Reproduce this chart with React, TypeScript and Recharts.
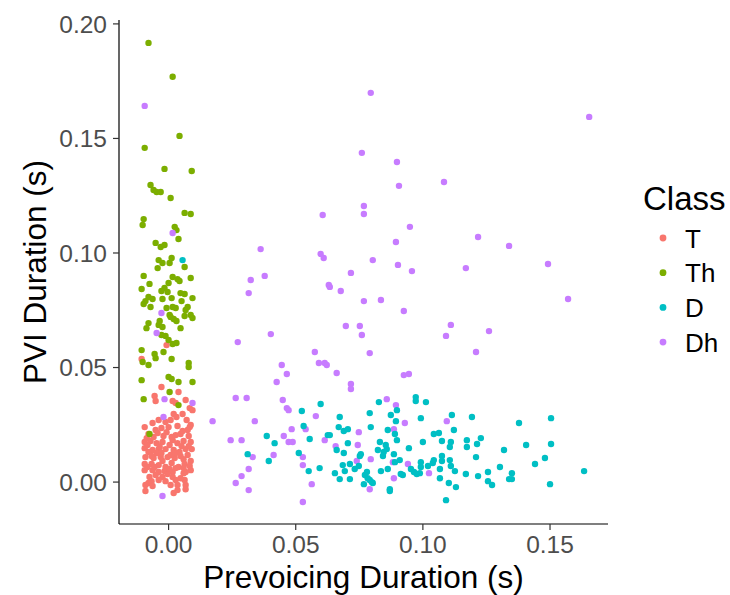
import { ScatterChart, Scatter, XAxis, YAxis, Label } from 'recharts';

type Pt = [number, number];

const classNames = ['T', 'Th', 'D', 'Dh'];
const classColors = ['#F8766D', '#7CAE00', '#00BFC4', '#C77CFF'];
const xTicks = [0, 0.05, 0.1, 0.15];
const yTicks = [0, 0.05, 0.1, 0.15, 0.2];

// prevoicing duration (s), PVI duration (s)
const tPoints: Pt[] = [
  [-0.0008, 0.0598], [-0.0106, 0.0537], [-0.0028, 0.0415], [-0.0055, 0.0376], [-0.0051, 0.0354],
  [0.0039, 0.0393], [0.0016, 0.0354], [0.0028, 0.0345], [0.0067, 0.0358], [0.0083, 0.0323],
  [0.0094, 0.0314], [0.0055, 0.0297], [0.002, 0.0297], [0.0008, 0.0271], [-0.0012, 0.0262],
  [-0.0039, 0.0271], [-0.0063, 0.0258], [-0.0094, 0.024], [0.0083, 0.024], [0.0075, 0.0227],
  [0.0, 0.024], [-0.0008, 0.0218], [-0.0043, 0.0214], [0.0028, 0.0205], [0.0047, 0.021],
  [0.0079, 0.0201], [0.0087, 0.0175], [-0.0094, 0.0175], [-0.0071, 0.0179], [-0.0047, 0.017],
  [-0.0024, 0.0175], [0.0016, 0.0183], [0.0035, 0.017], [0.0059, 0.0179], [-0.0094, 0.0148],
  [-0.0063, 0.014], [-0.0039, 0.0144], [-0.0012, 0.0144], [0.002, 0.014], [0.0043, 0.0131],
  [0.0067, 0.0144], [-0.0091, 0.0109], [-0.0059, 0.0105], [-0.0031, 0.0109], [-0.0004, 0.0109],
  [0.0024, 0.0105], [0.0059, 0.01], [0.0087, 0.0092], [-0.0094, 0.0079], [-0.0067, 0.0079],
  [-0.0039, 0.0074], [-0.0012, 0.0066], [0.0039, 0.0066], [0.0063, 0.0079], [-0.0094, 0.0052],
  [-0.0063, 0.0052], [-0.0039, 0.0044], [-0.0016, 0.0048], [0.0016, 0.0044], [0.0087, 0.0052],
  [0.0067, 0.0044], [-0.0051, 0.0031], [-0.0024, 0.0022], [0.0016, 0.0022], [0.0028, 0.0009],
  [0.0059, 0.0039], [0.0063, 0.0009], [-0.0075, 0.0022], [-0.0067, 0.0004], [0.0008, -0.0013],
  [0.0035, -0.0013], [0.0067, -0.0013], [0.0067, -0.0031], [-0.0079, -0.0004], [-0.0063, -0.0017],
  [-0.0091, -0.0013], [0.0035, -0.0035], [-0.0091, -0.0039], [0.002, -0.0048], [-0.0079, 0.021],
  [-0.0028, 0.0236], [0.0035, 0.0245], [0.0004, 0.0162], [-0.0024, 0.0092], [0.0012, 0.0083],
  [-0.0047, 0.0127], [0.0047, 0.0114], [-0.0079, 0.0131], [0.0075, 0.0118], [-0.002, 0.0201],
  [-0.0059, 0.0197], [0.0051, 0.0157], [0.0028, 0.0061], [-0.0004, 0.0035], [-0.0039, 0.0009],
  [-0.0012, 0.0004], [0.0047, 0.0017], [0.0091, 0.0144], [0.0071, 0.0271], [0.0031, 0.0284],
  [-0.0083, 0.0162], [-0.0035, 0.0153], [0.0008, 0.0118], [0.0083, 0.007], [-0.0086, 0.0192],
  [-0.0051, 0.0227], [0.0055, 0.0223], [0.0012, 0.0197], [-0.0067, 0.0114], [0.0028, 0.0127],
  [0.0079, 0.0157], [-0.0028, 0.0127], [0.0059, 0.0061], [-0.0083, 0.0066], [0.0004, 0.0057],
  [-0.0055, 0.0066], [0.0087, 0.0249],
];

const thPoints: Pt[] = [
  [-0.0079, 0.1917], [0.0016, 0.1769], [0.0043, 0.1511], [-0.0094, 0.1459], [-0.0016, 0.1367],
  [0.0091, 0.1358], [-0.0071, 0.1297], [-0.0059, 0.1275], [-0.0047, 0.1266], [-0.0031, 0.1266],
  [0.0008, 0.124], [0.0063, 0.1175], [0.0087, 0.117], [-0.0098, 0.1148], [-0.0102, 0.1122],
  [0.0024, 0.1114], [0.0031, 0.11], [0.0039, 0.1061], [-0.0051, 0.1044], [-0.0031, 0.1026],
  [-0.0016, 0.1035], [0.0012, 0.0978], [-0.0039, 0.0969], [-0.0024, 0.0956], [-0.0043, 0.0934],
  [0.0004, 0.0956], [0.0063, 0.0939], [-0.0098, 0.09], [0.0016, 0.0895], [0.0035, 0.0886],
  [0.0043, 0.0878], [0.0087, 0.0891], [-0.0075, 0.0865], [0.0, 0.0869], [-0.0106, 0.0843],
  [-0.0016, 0.0847], [-0.0028, 0.0834], [-0.0004, 0.083], [0.0047, 0.0825], [0.0063, 0.0821],
  [-0.0079, 0.0808], [-0.0063, 0.0799], [-0.0091, 0.079], [-0.0098, 0.0777], [-0.0024, 0.0799],
  [0.0012, 0.0803], [0.0051, 0.079], [0.0094, 0.0803], [-0.0071, 0.0764], [-0.0008, 0.076],
  [0.0016, 0.0764], [0.0028, 0.076], [0.0075, 0.0764], [0.0067, 0.0751], [0.0004, 0.0729],
  [0.0008, 0.0721], [0.002, 0.0712], [0.0031, 0.0703], [0.0063, 0.0725], [0.0087, 0.0729],
  [0.0094, 0.0716], [-0.0035, 0.0703], [-0.0079, 0.0694], [-0.0087, 0.0672], [-0.0039, 0.0686],
  [-0.0024, 0.0677], [0.0047, 0.0672], [-0.0028, 0.0642], [-0.0012, 0.0638], [0.0, 0.062],
  [0.0016, 0.0603], [0.0031, 0.0607], [-0.0106, 0.0576], [-0.0055, 0.0559], [-0.0051, 0.0541],
  [-0.002, 0.0568], [0.0012, 0.0537], [0.0079, 0.052], [0.0079, 0.0502], [-0.0079, 0.0511],
  [-0.0102, 0.0524], [-0.0106, 0.0445], [0.0, 0.0459], [0.0012, 0.045], [0.0039, 0.0437],
  [0.0094, 0.0437], [0.0004, 0.0393], [-0.0098, 0.0362], [0.0039, 0.0336], [-0.0075, 0.021],
];

const dPoints: Pt[] = [
  [0.0598, 0.0341], [0.0524, 0.031], [0.0827, 0.0349], [0.0898, 0.0314], [0.0673, 0.0284],
  [0.0791, 0.0301], [0.0874, 0.0293], [0.0894, 0.0266], [0.0531, 0.0245], [0.0669, 0.024],
  [0.0689, 0.0223], [0.0705, 0.0231], [0.0795, 0.024], [0.0862, 0.0227], [0.0386, 0.0201],
  [0.0417, 0.017], [0.0555, 0.0188], [0.0626, 0.0205], [0.0634, 0.0205], [0.089, 0.021],
  [0.0898, 0.0183], [0.0705, 0.017], [0.0831, 0.0175], [0.0854, 0.0162], [0.0945, 0.0148],
  [0.0311, 0.0122], [0.0512, 0.0127], [0.0661, 0.014], [0.0689, 0.0127], [0.0756, 0.0122],
  [0.0752, 0.0114], [0.0823, 0.014], [0.0846, 0.0131], [0.0858, 0.0144], [0.0843, 0.0114],
  [0.0886, 0.0122], [0.0394, 0.0092], [0.0685, 0.0074], [0.0713, 0.0079], [0.0748, 0.007],
  [0.0732, 0.0057], [0.0909, 0.0096], [0.089, 0.0087], [0.0835, 0.0048], [0.0862, 0.0057],
  [0.0551, 0.0048], [0.0594, 0.0061], [0.0693, 0.0048], [0.0654, 0.0039], [0.078, 0.0044],
  [0.0772, 0.0031], [0.0791, 0.0009], [0.0913, 0.0035], [0.0673, 0.0013], [0.0713, 0.0013],
  [0.0768, -0.0009], [0.0803, -0.0004], [0.087, -0.0031], [0.087, -0.0039], [0.0972, 0.0371],
  [0.0972, 0.0354], [0.1012, 0.0349], [0.0992, 0.0279], [0.1114, 0.0293], [0.1193, 0.0284],
  [0.1378, 0.0258], [0.1504, 0.0279], [0.1122, 0.0227], [0.1043, 0.021], [0.1063, 0.0214],
  [0.1, 0.0175], [0.1075, 0.0179], [0.111, 0.0175], [0.1106, 0.0153], [0.1173, 0.0183],
  [0.1173, 0.0153], [0.1213, 0.0166], [0.1228, 0.0192], [0.1319, 0.014], [0.1406, 0.0162],
  [0.1504, 0.0166], [0.1209, 0.0109], [0.1075, 0.0114], [0.1075, 0.0092], [0.1106, 0.0096],
  [0.1043, 0.0096], [0.1039, 0.0083], [0.0992, 0.0087], [0.0992, 0.0066], [0.102, 0.007],
  [0.111, 0.007], [0.1126, 0.0048], [0.1067, 0.0057], [0.0953, 0.0057], [0.0965, 0.0044],
  [0.0976, 0.0035], [0.0988, 0.0039], [0.0921, 0.0031], [0.1441, 0.0079], [0.148, 0.0105],
  [0.1303, 0.0066], [0.1169, 0.0035], [0.1217, 0.0026], [0.1256, 0.0044], [0.135, 0.0039],
  [0.1067, 0.0017], [0.1256, 0.0004], [0.1272, -0.0013], [0.1339, 0.0013], [0.135, 0.0013],
  [0.1102, -0.0004], [0.113, -0.0022], [0.15, -0.0009], [0.1634, 0.0048], [0.1091, -0.0079],
  [0.0055, 0.0969], [0.0783, 0.0017], [0.0799, 0.0],
];

const dhPoints: Pt[] = [
  [0.0795, 0.1699], [0.076, 0.1437], [0.0898, 0.1397], [0.0906, 0.1293], [0.1083, 0.131],
  [0.0768, 0.1205], [0.0768, 0.117], [0.0606, 0.1166], [0.0949, 0.1114], [0.0362, 0.1017],
  [0.0894, 0.1048], [0.1217, 0.107], [0.1339, 0.1031], [0.0598, 0.0996], [0.061, 0.0978],
  [0.0803, 0.0969], [0.0902, 0.0948], [0.1169, 0.0934], [0.1492, 0.0952], [0.0323, 0.0882],
  [0.0378, 0.09], [0.0717, 0.0913], [0.0957, 0.0921], [0.0315, 0.0825], [0.063, 0.086],
  [0.0634, 0.0852], [0.0677, 0.0834], [0.0768, 0.079], [0.0835, 0.0795], [0.1571, 0.0799],
  [0.1654, 0.1594], [0.0925, 0.0747], [0.0402, 0.0646], [0.0272, 0.0611], [0.0697, 0.0681],
  [0.0752, 0.0681], [0.076, 0.0642], [0.0575, 0.0568], [0.0791, 0.0563], [0.0445, 0.0511],
  [0.0591, 0.052], [0.0614, 0.052], [0.0622, 0.0511], [0.0661, 0.0476], [0.0465, 0.0472],
  [0.0425, 0.0437], [0.0717, 0.0428], [0.0717, 0.0406], [0.0925, 0.0467], [0.0945, 0.0472],
  [0.0264, 0.0367], [0.0307, 0.0367], [0.0449, 0.0358], [0.0465, 0.0323], [0.0472, 0.0314],
  [0.0858, 0.0362], [0.0894, 0.0336], [0.0579, 0.0288], [0.0173, 0.0266], [0.0339, 0.0266],
  [0.0484, 0.0231], [0.0539, 0.0231], [0.0929, 0.0258], [0.0453, 0.0201], [0.0244, 0.0183],
  [0.0287, 0.0183], [0.0614, 0.0183], [0.0472, 0.0175], [0.0488, 0.0175], [0.0748, 0.0218],
  [0.0886, 0.0231], [0.0657, 0.0157], [0.0744, 0.0162], [0.0331, 0.0109], [0.0413, 0.0118],
  [0.0528, 0.0109], [0.0795, 0.01], [0.074, 0.0092], [0.0528, 0.0074], [0.0882, 0.0087],
  [0.0941, 0.0079], [0.0315, 0.0057], [0.0287, 0.0026], [0.0264, -0.0004], [0.0315, -0.0035],
  [0.0563, -0.0009], [0.0886, 0.0017], [0.0791, -0.0031], [0.0528, -0.0087], [0.111, 0.0686],
  [0.1091, 0.0638], [0.126, 0.0659], [0.1209, 0.0568], [0.1094, 0.0266], [0.1024, 0.0039],
  [-0.0094, 0.1642], [0.0016, 0.1087], [-0.0028, 0.0738], [-0.0047, 0.0651], [-0.0016, 0.0362],
  [0.0094, 0.0345], [-0.002, 0.0284], [-0.0024, -0.0061],
];

const seriesPoints = [tPoints, thPoints, dPoints, dhPoints];
// ggplot draws rows in file order; purple mostly sits under the teal cloud
const drawOrder = [0, 1, 3, 2];

const toRows = (pts: Pt[]) => pts.map(([x, y]) => ({ x, y }));

const FONT = '"Liberation Sans", Arial, Helvetica, sans-serif';

const dotShape = (color: string) => (props: any) => (
  <circle cx={props.cx} cy={props.cy} r={3.2} fill={color} />
);

function ClassLegend() {
  return (
    <svg
      width={100}
      height={200}
      style={{ position: 'absolute', left: 630, top: 170, overflow: 'visible' }}
    >
      <text x={13} y={40} fontSize={33} fontFamily={FONT} fill="#000">
        Class
      </text>
      {classNames.map((name, i) => (
        <g key={name}>
          <circle cx={33} cy={68 + i * 34.7} r={3.4} fill={classColors[i]} />
          <text x={55} y={77.5 + i * 34.7} fontSize={26} fontFamily={FONT} fill="#000">
            {name}
          </text>
        </g>
      ))}
    </svg>
  );
}

export default function App() {
  const tickStyle = { fill: '#4D4D4D', fontSize: 24.5, fontFamily: FONT };
  return (
    <div
      style={{ position: 'absolute', left: 0, top: 0, width: 730, height: 595, background: '#fff', overflow: 'hidden' }}
    >
      <ScatterChart
        width={730}
        height={595}
        margin={{ top: 20, right: 122, bottom: 31, left: 0 }}
      >
        <XAxis
          dataKey="x"
          type="number"
          domain={[-0.0195, 0.1728]}
          ticks={xTicks}
          tickFormatter={(v: number) => v.toFixed(2)}
          allowDataOverflow
          height={40}
          tickSize={6}
          tickMargin={6}
          tick={tickStyle}
          axisLine={{ stroke: '#000', strokeWidth: 1.2 }}
          tickLine={{ stroke: '#333', strokeWidth: 1.2 }}
        >
          <Label
            content={(p: any) => {
              const vb = p.viewBox || { x: 119, y: 524, width: 489 };
              return (
                <text
                  x={vb.x + vb.width / 2}
                  y={vb.y + 64}
                  textAnchor="middle"
                  fontSize={31.5}
                  fontFamily={FONT}
                  fill="#000"
                >
                  Prevoicing Duration (s)
                </text>
              );
            }}
          />
        </XAxis>
        <YAxis
          dataKey="y"
          type="number"
          domain={[-0.0183, 0.2017]}
          ticks={yTicks}
          tickFormatter={(v: number) => v.toFixed(2)}
          allowDataOverflow
          width={119}
          tickSize={6}
          tickMargin={6}
          tick={tickStyle}
          axisLine={{ stroke: '#000', strokeWidth: 1.2 }}
          tickLine={{ stroke: '#333', strokeWidth: 1.2 }}
        >
          <Label
            content={(p: any) => {
              const vb = p.viewBox || { x: 0, y: 20, width: 119, height: 504 };
              const cy = vb.y + vb.height / 2;
              return (
                <text
                  x={46}
                  y={cy}
                  textAnchor="middle"
                  fontSize={31.5}
                  fontFamily={FONT}
                  fill="#000"
                  transform={`rotate(-90, 46, ${cy})`}
                >
                  PVI Duration (s)
                </text>
              );
            }}
          />
        </YAxis>
        {drawOrder.map((i) => (
          <Scatter
            key={classNames[i]}
            name={classNames[i]}
            data={toRows(seriesPoints[i])}
            fill={classColors[i]}
            shape={dotShape(classColors[i])}
            isAnimationActive={false}
          />
        ))}
      </ScatterChart>
      <ClassLegend />
    </div>
  );
}
